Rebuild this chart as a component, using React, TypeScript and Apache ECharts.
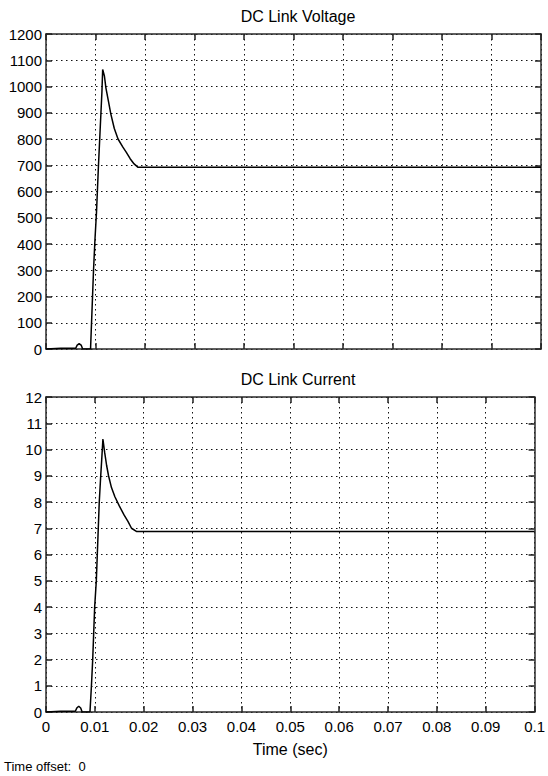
import React, { useEffect, useRef } from "react";
import * as echarts from "echarts";

const timeV = [0, 0.003, 0.006, 0.0063, 0.0067, 0.0071, 0.0074, 0.009, 0.0093, 0.0096, 0.0099, 0.0102, 0.0106, 0.0109, 0.0111, 0.0113, 0.01145, 0.0118, 0.0121, 0.0126, 0.0131, 0.0138, 0.01455, 0.0155, 0.0162, 0.017, 0.0178, 0.0186, 0.1];
const voltage = [0, 3, 3, 15, 20, 15, 0, 0, 150, 300, 420, 520, 700, 820, 900, 980, 1065, 1040, 995, 945, 895, 840, 800, 770, 750, 725, 705, 692, 692];

const timeI = [0, 0.003, 0.006, 0.0063, 0.0067, 0.0071, 0.0074, 0.009, 0.0093, 0.00956, 0.00976, 0.00996, 0.0103, 0.0105, 0.0107, 0.0109, 0.0112, 0.0114, 0.01165, 0.012, 0.0124, 0.0128, 0.0134, 0.0141, 0.015, 0.016, 0.0168, 0.0175, 0.0185, 0.1];
const current = [0, 0.03, 0.03, 0.15, 0.22, 0.15, 0, 0, 1, 2, 3, 4, 5, 6, 7, 8, 9, 9.6, 10.4, 9.9, 9.4, 9.0, 8.55, 8.2, 7.85, 7.5, 7.25, 7.0, 6.88, 6.88];

const titles = ["DC Link Voltage", "DC Link Current"];
const xName = "Time (sec)";
const offsetText = "Time offset:  0";

const frame = { color: "#2a2a2a", width: 1.5 };
const font = '"Liberation Sans", Arial, sans-serif';

function xAxes(grid: number, labels: boolean) {
  const base = {
    gridIndex: grid,
    type: "value",
    min: 0,
    max: 0.1,
    interval: 0.01,
    axisLine: { show: true, onZero: false, lineStyle: frame },
    axisTick: { show: true, inside: true, length: 6, lineStyle: { color: "#222", width: 1.5 } },
  };
  return [
    {
      ...base,
      position: "bottom",
      axisLabel: {
        show: labels,
        margin: 7,
        color: "#000",
        fontFamily: font,
        fontSize: 15,
        formatter: (v: number) => String(+v.toFixed(2)),
      },
      splitLine: { show: true, lineStyle: { color: "#111", width: 1, type: [1.5, 3.5] } },
      ...(labels
        ? {
            name: xName,
            nameLocation: "middle",
            nameGap: 29,
            nameTextStyle: { color: "#000", fontFamily: font, fontSize: 16 },
          }
        : {}),
    },
    {
      ...base,
      position: "top",
      axisLabel: { show: false },
      splitLine: { show: false },
    },
  ];
}

function yAxes(grid: number, max: number, interval: number) {
  const base = {
    gridIndex: grid,
    type: "value",
    min: 0,
    max,
    interval,
    axisLine: { show: true, onZero: false, lineStyle: frame },
    axisTick: { show: true, inside: true, length: 6, lineStyle: { color: "#222", width: 1.5 } },
  };
  return [
    {
      ...base,
      position: "left",
      axisLabel: {
        show: true,
        margin: 4,
        color: "#000",
        fontFamily: font,
        fontSize: 15,
        formatter: (v: number) => String(v),
      },
      splitLine: { show: true, lineStyle: { color: "#111", width: 1, type: [1.5, 3.5] } },
    },
    {
      ...base,
      position: "right",
      axisLabel: { show: false },
      splitLine: { show: false },
    },
  ];
}

export default function App() {
  const ref = useRef<HTMLDivElement>(null);
  useEffect(() => {
    if (!ref.current) return;
    const chart = echarts.init(ref.current, null, { renderer: "svg" });
    const option = {
      animation: false,
      backgroundColor: "#fff",
      title: [
        {
          text: titles[0],
          left: 293,
          top: 3,
          textAlign: "center",
          textStyle: { color: "#000", fontFamily: font, fontSize: 16, fontWeight: "normal" },
        },
        {
          text: titles[1],
          left: 293,
          top: 366,
          textAlign: "center",
          textStyle: { color: "#000", fontFamily: font, fontSize: 16, fontWeight: "normal" },
        },
      ],
      grid: [
        { left: 46, right: 7, top: 34, height: 315, show: false },
        { left: 46, right: 7, top: 397, height: 315, show: false },
      ],
      xAxis: [...xAxes(0, false), ...xAxes(1, true)],
      yAxis: [...yAxes(0, 1200, 100), ...yAxes(1, 12, 1)],
      series: [
        {
          type: "line",
          xAxisIndex: 0,
          yAxisIndex: 0,
          data: timeV.map((t, i) => [t, voltage[i]]),
          showSymbol: false,
          lineStyle: { color: "#000", width: 1.5 },
        },
        {
          type: "line",
          xAxisIndex: 2,
          yAxisIndex: 2,
          data: timeI.map((t, i) => [t, current[i]]),
          showSymbol: false,
          lineStyle: { color: "#000", width: 1.5 },
        },
      ],
      graphic: [
        {
          type: "text",
          left: 4,
          top: 760,
          style: { text: offsetText, fill: "#000", font: `13px ${font}` },
        },
      ],
    };
    chart.setOption(option as any);
    return () => chart.dispose();
  }, []);
  return (
    <div
      ref={ref}
      style={{ position: "fixed", left: 0, top: 0, width: 548, height: 776, background: "#fff" }}
    />
  );
}
